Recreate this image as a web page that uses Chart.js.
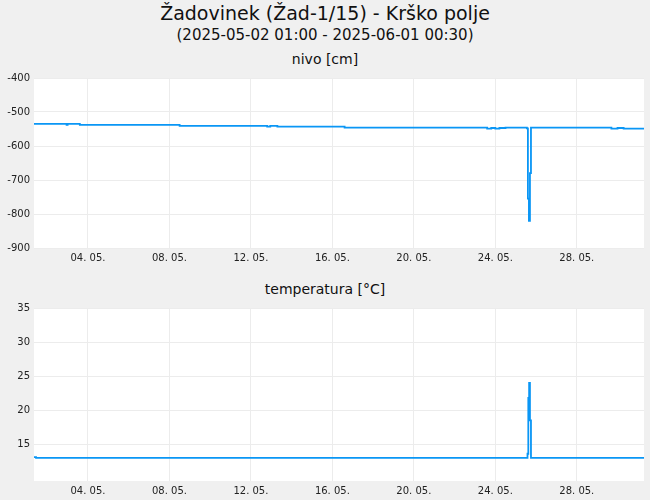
<!DOCTYPE html>
<html><head><meta charset="utf-8">
<script src="https://cdn.jsdelivr.net/npm/chart.js@4/dist/chart.umd.min.js"></script>
<style>
body{margin:0;background:#f0f0f0;font-family:"DejaVu Sans",sans-serif;width:650px;height:500px;position:relative;overflow:hidden}
.t{position:absolute;left:0;width:650px;text-align:center;color:#111}
canvas{position:absolute;left:0}
</style></head><body>
<div class="t" style="top:2px;font-size:19px">Žadovinek (Žad-1/15) - Krško polje</div>
<div class="t" style="top:26px;font-size:15px">(2025-05-02 01:00 - 2025-06-01 00:30)</div>
<div class="t" style="top:51px;font-size:14px">nivo [cm]</div>
<div class="t" style="top:281px;font-size:14px">temperatura [°C]</div>
<div style="position:absolute;top:68px;left:0;width:650px;height:200px"><canvas id="c1"></canvas></div>
<div style="position:absolute;top:298px;left:0;width:650px;height:202px"><canvas id="c2"></canvas></div>
<script>
// x values are days in May (1 = 1 May 00:00)
const tickDays = [4, 8, 12, 16, 20, 24, 28];
const tickLabels = ["04. 05.", "08. 05.", "12. 05.", "16. 05.", "20. 05.", "24. 05.", "28. 05."];
const nivoDays = [1.35, 2.95, 3.0, 3.6, 8.5, 12.8, 12.95, 13.3, 16.6, 23.0, 23.6, 23.8, 24.0, 24.2, 24.5, 25.55, 25.6, 25.65, 25.7, 25.75, 29.7, 30.0, 30.3, 31.3];
const nivoVals = [-535, -538, -535, -538, -541, -543, -541, -543, -546, -546, -549, -547, -549, -547, -546, -548, -755, -820, -680, -546, -549, -547, -549, -549];
const tempDays = [1.35, 1.45, 25.5, 25.58, 25.62, 25.66, 25.7, 25.75, 31.3];
const tempVals = [13.1, 13.0, 13.0, 13.6, 21.8, 24.0, 18.5, 13.0, 13.0];

const bg = {
  id: "bg",
  beforeDraw(c) {
    const a = c.chartArea;
    c.ctx.save();
    c.ctx.fillStyle = "#fff";
    c.ctx.fillRect(a.left, a.top, a.right - a.left, a.bottom - a.top);
    c.ctx.restore();
  }
};

function makeChart(id, days, vals, yOpts, padTop, xH) {
  return new Chart(document.getElementById(id), {
    type: "line",
    data: { datasets: [{ data: days.map((d, i) => ({ x: d, y: vals[i] })), borderColor: "#0a96f5", borderWidth: 1.8, pointRadius: 0, stepped: true }] },
    plugins: [bg],
    options: {
      responsive: true, maintainAspectRatio: false, animation: false,
      layout: { padding: { top: padTop, right: 6, left: 0 } },
      plugins: { legend: { display: false }, tooltip: { enabled: false } },
      scales: {
        x: {
          type: "linear", min: 1.35, max: 31.3,
          afterBuildTicks: s => { s.ticks = tickDays.map(v => ({ value: v })); },
          afterFit: s => { s.height = xH; },
          ticks: { callback: v => tickLabels[tickDays.indexOf(v)], maxRotation: 0, font: { size: 10, family: "DejaVu Sans" }, color: "#222", padding: 4 },
          grid: { color: "#ececec", drawTicks: false }, border: { display: false }
        },
        y: Object.assign({
          afterFit: s => { s.width = 34; },
          ticks: { font: { size: 10, family: "DejaVu Sans" }, color: "#222", padding: 4 },
          grid: { color: "#ececec", drawTicks: false }, border: { display: false }
        }, yOpts)
      }
    }
  });
}

makeChart("c1", nivoDays, nivoVals, { min: -900, max: -400,
  afterBuildTicks: s => { s.ticks = [-900, -800, -700, -600, -500, -400].map(v => ({ value: v })); } }, 5, 20);
makeChart("c2", tempDays, tempVals, { min: 9.6, max: 35,
  afterBuildTicks: s => { s.ticks = [15, 20, 25, 30, 35].map(v => ({ value: v })); } }, 5, 19);
</script>
</body></html>
